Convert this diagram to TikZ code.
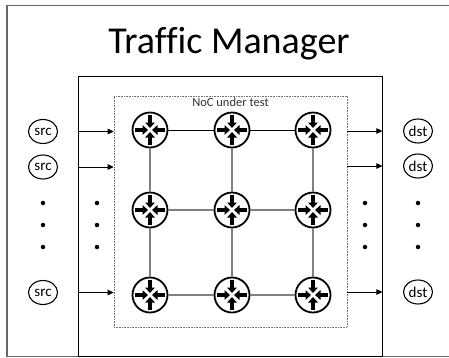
\documentclass[tikz,border=0pt]{standalone}
\usepackage{fontspec}
\setmainfont[Ligatures=NoCommon]{Carlito}
\usetikzlibrary{shapes.geometric,arrows.meta}
\tikzset{
    router/.style={circle, draw, line width=1.8pt, fill=white, minimum size=35pt, inner sep=0pt},
    rarrow/.style={line width=3.4pt, -{Triangle[length=5.5pt,width=9.5pt]}},
    endpoint/.style={ellipse, draw, line width=1.1pt, minimum width=29pt, minimum height=24pt, inner sep=0pt, font=\fontsize{15}{15}\selectfont},
    link/.style={line width=1.3pt, black!50},
    feed/.style={line width=0.9pt, -{Triangle[length=6pt,width=5.5pt]}},
    dot/.style={circle, fill, minimum size=4.5pt, inner sep=0pt}
}
\begin{document}
\begin{tikzpicture}[x=1pt, y=-1pt]
    \useasboundingbox (0,0) rectangle (449,357);
    \draw[line width=1.4pt, black!60] (449,5.5) -- (7,5.5) -- (7,356.5) -- (449,356.5);
    \node[anchor=base, font=\fontsize{38}{40}\selectfont] (title) at (229,53) {Traffic Manager};

    \node[draw, line width=0.9pt, minimum width=304pt, minimum height=280pt, inner sep=0pt] (tm) at (230,216.5) {};
    \node[draw, black!55, densely dotted, line width=0.6pt, minimum width=233pt, minimum height=231pt, inner sep=0pt] (noc) at (230.5,211.5) {};
    \node[anchor=base, font=\fontsize{12.5}{13}\selectfont, black!80] (noclabel) at (230.5,106.5) {NoC under test};

    \foreach \x [count=\i] in {150,232,313}
    {\foreach \y [count=\j] in {130,210,295}
        {\node[router] (r\i\j) at (\x,\y) {};}}

    \foreach \i in {1,2,3}
    {\draw[link] (r\i1) -- (r\i2);
     \draw[link] (r\i2) -- (r\i3);}
    \foreach \j in {2,3}
    {\draw[link] (r1\j) -- (r2\j);
     \draw[link] (r2\j) -- (r3\j);}
    \draw[line width=1pt] (r11) -- (r21);
    \draw[line width=1pt] (r21) -- (r31);

    \foreach \i in {1,2,3}
    {\foreach \j in {1,2,3}
        {\foreach \a in {0,90,180,270}
            {\draw[rarrow] ([shift={(\a:15pt)}]r\i\j.center) -- ([shift={(\a:2pt)}]r\i\j.center);}}}

    \foreach \y [count=\k] in {131.5,167,292.5}
    {\node[endpoint] (src\k) at (43,\y) {src};}
    \foreach \y [count=\k] in {131,166,292}
    {\node[endpoint] (dst\k) at (418,\y) {dst};}

    \foreach \x in {43,97,365,418}
    {\foreach \y in {203,225,247}
        {\node[dot] (dot-\x-\y) at (\x,\y) {};}}

    \foreach \k in {1,2,3}
    {\draw[feed] (tm.west |- src\k) -- (noc.west |- src\k);
     \draw[feed] (noc.east |- dst\k) -- (tm.east |- dst\k);}
\end{tikzpicture}
\end{document}
